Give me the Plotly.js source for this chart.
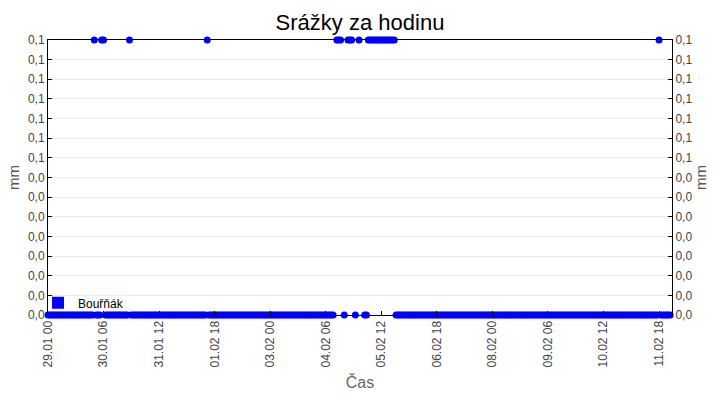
<!DOCTYPE html>
<html>
<head>
<meta charset="utf-8">
<script src="https://cdn.plot.ly/plotly-3.0.1.min.js"></script>
<style>
html,body{margin:0;padding:0;background:#fff;}
#chart{width:720px;height:400px;}
</style>
</head>
<body>
<div id="chart"></div>
<script>
// Hourly precipitation (mm), starting 29.01 00:00, one row per day (24 hours)
const startTime = '2018-01-29T00:00:00';
const precipDays = [
  [0,0,0,0,0,0,0,0,0,0,0,0,0,0,0,0,0,0,0,0,0,0,0,0],               // 29.01
  [0,0.1,0,0,0,0.1,0.1,0,0,0,0,0,0,0,0,0,0,0,0,0,0.1,0,0,0],       // 30.01
  [0,0,0,0,0,0,0,0,0,0,0,0,0,0,0,0,0,0,0,0,0,0,0,0],               // 31.01
  [0,0,0,0,0,0,0,0,0,0,0,0,0,0,0.1,0,0,0,0,0,0,0,0,0],             // 01.02
  [0,0,0,0,0,0,0,0,0,0,0,0,0,0,0,0,0,0,0,0,0,0,0,0],               // 02.02
  [0,0,0,0,0,0,0,0,0,0,0,0,0,0,0,0,0,0,0,0,0,0,0,0],               // 03.02
  [0,0,0,0,0,0,0,0,0,0,0,null,0.1,0.1,0.1,null,0,null,0.1,0.1,0.1,null,0,null], // 04.02
  [0.1,null,null,0,0,0.1,0.1,0.1,0.1,0.1,0.1,0.1,0.1,0.1,0.1,0.1,0.1,0.1,0.1,0.1,0,0,0,0], // 05.02
  [0,0,0,0,0,0,0,0,0,0,0,0,0,0,0,0,0,0,0,0,0,0,0,0],               // 06.02
  [0,0,0,0,0,0,0,0,0,0,0,0,0,0,0,0,0,0,0,0,0,0,0,0],               // 07.02
  [0,0,0,0,0,0,0,0,0,0,0,0,0,0,0,0,0,0,0,0,0,0,0,0],               // 08.02
  [0,0,0,0,0,0,0,0,0,0,0,0,0,0,0,0,0,0,0,0,0,0,0,0],               // 09.02
  [0,0,0,0,0,0,0,0,0,0,0,0,0,0,0,0,0,0,0,0,0,0,0,0],               // 10.02
  [0,0,0,0,0,0,0,0,0,0,0,0,0,0,0,0,0,0,0.1,0,0,0,0,0],             // 11.02
  [0]                                                               // 12.02
];
const seriesName = 'Bouřňák';
const xTickTimes = ['2018-01-29 00:00','2018-01-30 06:00','2018-01-31 12:00','2018-02-01 18:00',
  '2018-02-03 00:00','2018-02-04 06:00','2018-02-05 12:00','2018-02-06 18:00',
  '2018-02-08 00:00','2018-02-09 06:00','2018-02-10 12:00','2018-02-11 18:00'];
const xTickLabels = ['29.01 00','30.01 06','31.01 12','01.02 18','03.02 00','04.02 06',
  '05.02 12','06.02 18','08.02 00','09.02 06','10.02 12','11.02 18'];
const yTickLabels = ['0,0','0,0','0,0','0,0','0,0','0,0','0,0','0,0',
  '0,1','0,1','0,1','0,1','0,1','0,1','0,1'];
const yMax = 0.1;
const xRange = ['2018-01-29 00:00','2018-02-12 01:00'];

// build hourly timestamps (category axis)
const values = [].concat(...precipDays);
const t0 = new Date(startTime + 'Z').getTime();
const pad = n => String(n).padStart(2,'0');
const times = values.map((_, i) => {
  const d = new Date(t0 + i*3600000);
  return d.getUTCFullYear()+'-'+pad(d.getUTCMonth()+1)+'-'+pad(d.getUTCDate())+' '+pad(d.getUTCHours())+':00';
});
const yTickVals = yTickLabels.map((_, k) => k * yMax / (yTickLabels.length - 1));

const fontFam = 'Liberation Sans, Arial, sans-serif';
const blue = '#0000ff';

const traces = [
  {
    x: times, y: values, type: 'scatter', mode: 'markers',
    marker: {color: blue, size: 7, symbol: 'circle', line: {width: 0}},
    cliponaxis: false, showlegend: false, hoverinfo: 'x+y'
  },
  {
    x: times, y: values, type: 'scatter', mode: 'markers', name: seriesName, yaxis: 'y2',
    marker: {color: blue, size: 12, symbol: 'square', opacity: 0},
    showlegend: false, hoverinfo: 'skip'
  },
  {
    x: [null], y: [null], type: 'scatter', mode: 'markers', name: seriesName,
    marker: {color: blue, size: 12, symbol: 'square'}, showlegend: true
  }
];

const yAxisCommon = {
  range: [0, yMax], tickmode: 'array', tickvals: yTickVals, ticktext: yTickLabels,
  ticks: 'inside', ticklen: 4, tickcolor: '#000', tickwidth: 1,
  tickfont: {family: fontFam, size: 12, color: '#444'},
  showline: true, linecolor: '#000', linewidth: 1,
  zeroline: false, fixedrange: true
};

const layout = {
  width: 720, height: 400,
  margin: {l: 48, r: 48, t: 40, b: 85, pad: 0},
  paper_bgcolor: '#fff', plot_bgcolor: '#fff',
  title: {text: 'Srážky za hodinu', font: {family: fontFam, size: 22, color: '#000'},
          x: 0.5, xanchor: 'center', y: 0.945, yanchor: 'middle'},
  xaxis: {
    type: 'date', range: xRange, tickmode: 'array', tickvals: xTickTimes, ticktext: xTickLabels,
    tickangle: -90, ticks: 'inside', ticklen: 4, tickcolor: '#000',
    tickfont: {family: fontFam, size: 12, color: '#444'},
    showline: true, linecolor: '#000', linewidth: 1, mirror: true,
    showgrid: false, zeroline: false,
    title: {text: 'Čas', font: {family: fontFam, size: 16, color: '#666'}, standoff: 10}
  },
  yaxis: Object.assign({}, yAxisCommon, {
    side: 'left', showgrid: true, gridcolor: '#ebebeb', gridwidth: 1,
    title: {text: 'mm', font: {family: fontFam, size: 15, color: '#555'}, standoff: 4}
  }),
  yaxis2: Object.assign({}, yAxisCommon, {
    side: 'right', overlaying: 'y', showgrid: false,
    title: {text: 'mm', font: {family: fontFam, size: 15, color: '#555'}, standoff: 4}
  }),
  legend: {x: -0.016, y: 0.097, xanchor: 'left', yanchor: 'top', bgcolor: 'rgba(0,0,0,0)',
           font: {family: fontFam, size: 12, color: '#000'}, itemwidth: 30},
  showlegend: true
};

Plotly.newPlot('chart', traces, layout, {staticPlot: true, displayModeBar: false});
</script>
</body>
</html>
